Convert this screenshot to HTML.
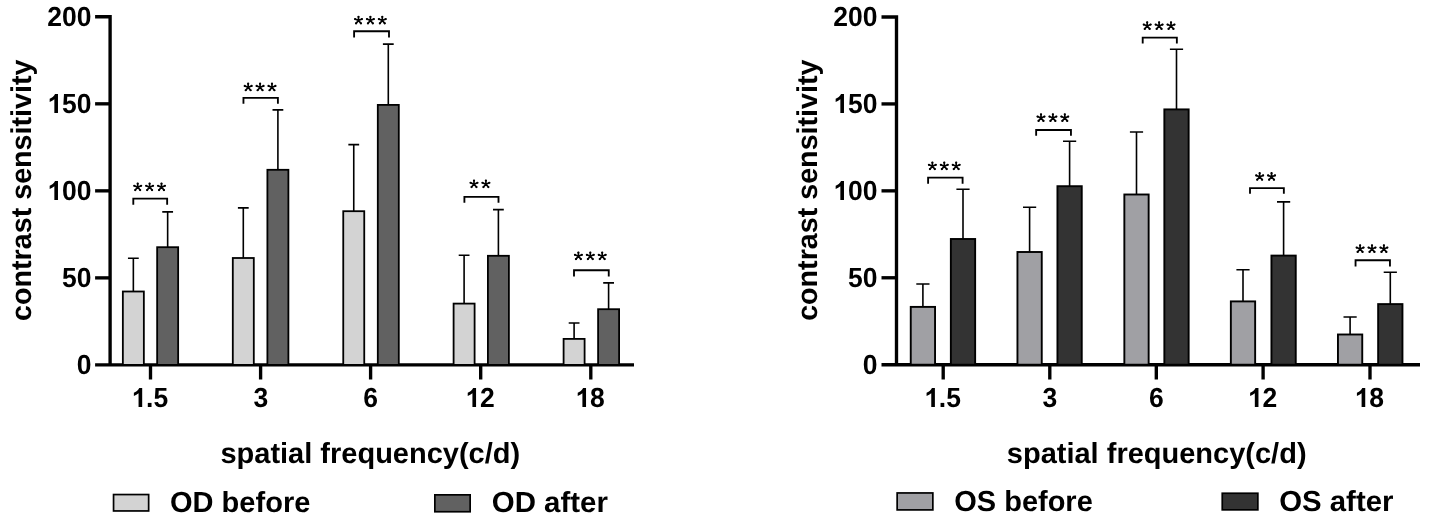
<!DOCTYPE html>
<html><head><meta charset="utf-8"><title>Contrast sensitivity</title>
<style>
html,body{margin:0;padding:0;background:#fff;}
body{width:1430px;height:520px;overflow:hidden;}
svg{display:block;will-change:transform;filter:blur(0.3px);}
text{font-family:"Liberation Sans", sans-serif;fill:#000;text-rendering:geometricPrecision;font-weight:bold;}
</style></head>
<body>
<svg width="1430" height="520" viewBox="0 0 1430 520">
<defs><g id="ast"><path d="M0 0L0 -3.65M0 0L-3.42 -1.4M0 0L3.42 -1.4M0 0L-2.45 2.9M0 0L2.45 2.9" stroke="#000" stroke-width="1.65" stroke-linecap="round" fill="none"/><circle cx="0" cy="-3.65" r="1.12"/><circle cx="-3.42" cy="-1.4" r="1.12"/><circle cx="3.42" cy="-1.4" r="1.12"/><circle cx="-2.45" cy="2.9" r="1.12"/><circle cx="2.45" cy="2.9" r="1.12"/></g></defs>
<rect width="1430" height="520" fill="#fff"/>
<path d="M95.1 16.8H110.1V364.9" fill="none" stroke="#000" stroke-width="3.35"/>
<path d="M95.1 364.9H634" fill="none" stroke="#000" stroke-width="3.35"/>
<path d="M95.1 103.825H110.1" stroke="#000" stroke-width="3.35"/>
<path d="M95.1 190.85H110.1" stroke="#000" stroke-width="3.35"/>
<path d="M95.1 277.875H110.1" stroke="#000" stroke-width="3.35"/>
<g transform="translate(47.172 26) scale(1 1.04)"><text x="0" y="0" style="font-size:26.5px">2</text><text x="14.742" y="0" style="font-size:26.5px">0</text><text x="29.484" y="0" style="font-size:26.5px">0</text></g>
<g transform="translate(47.172 113) scale(1 1.04)"><path d="M0.408 0H0.271V-0.497Q0.196 -0.43 0.094 -0.397V-0.517Q0.147 -0.533 0.21 -0.58Q0.273 -0.627 0.297 -0.688H0.408Z" transform="translate(0 0) scale(26.5)"/><text x="14.742" y="0" style="font-size:26.5px">5</text><text x="29.484" y="0" style="font-size:26.5px">0</text></g>
<g transform="translate(47.172 200) scale(1 1.04)"><path d="M0.408 0H0.271V-0.497Q0.196 -0.43 0.094 -0.397V-0.517Q0.147 -0.533 0.21 -0.58Q0.273 -0.627 0.297 -0.688H0.408Z" transform="translate(0 0) scale(26.5)"/><text x="14.742" y="0" style="font-size:26.5px">0</text><text x="29.484" y="0" style="font-size:26.5px">0</text></g>
<g transform="translate(61.914 287) scale(1 1.04)"><text x="0" y="0" style="font-size:26.5px">5</text><text x="14.742" y="0" style="font-size:26.5px">0</text></g>
<g transform="translate(76.656 374) scale(1 1.04)"><text x="0" y="0" style="font-size:26.5px">0</text></g>
<path d="M150.5 364.9V379.5" stroke="#000" stroke-width="3.35"/>
<g transform="translate(131.381 407) scale(1 1.04)"><path d="M0.408 0H0.271V-0.497Q0.196 -0.43 0.094 -0.397V-0.517Q0.147 -0.533 0.21 -0.58Q0.273 -0.627 0.297 -0.688H0.408Z" transform="translate(0 0) scale(26.5)"/><text x="14.742" y="0" style="font-size:26.5px">.</text><text x="22.104" y="0" style="font-size:26.5px">5</text></g>
<path d="M260.6 364.9V379.5" stroke="#000" stroke-width="3.35"/>
<g transform="translate(253.382 407) scale(1 1.04)"><text x="0" y="0" style="font-size:26.5px">3</text></g>
<path d="M370.6 364.9V379.5" stroke="#000" stroke-width="3.35"/>
<g transform="translate(363.222 407) scale(1 1.04)"><text x="0" y="0" style="font-size:26.5px">6</text></g>
<path d="M480.7 364.9V379.5" stroke="#000" stroke-width="3.35"/>
<g transform="translate(465.247 407) scale(1 1.04)"><path d="M0.408 0H0.271V-0.497Q0.196 -0.43 0.094 -0.397V-0.517Q0.147 -0.533 0.21 -0.58Q0.273 -0.627 0.297 -0.688H0.408Z" transform="translate(0 0) scale(26.5)"/><text x="14.742" y="0" style="font-size:26.5px">2</text></g>
<path d="M590.8 364.9V379.5" stroke="#000" stroke-width="3.35"/>
<g transform="translate(575.226 407) scale(1 1.04)"><path d="M0.408 0H0.271V-0.497Q0.196 -0.43 0.094 -0.397V-0.517Q0.147 -0.533 0.21 -0.58Q0.273 -0.627 0.297 -0.688H0.408Z" transform="translate(0 0) scale(26.5)"/><text x="14.742" y="0" style="font-size:26.5px">8</text></g>
<path d="M133.35 291.5V258.2M127.95 258.2H138.75" stroke="#000" stroke-width="1.6" fill="none"/>
<rect x="122.85" y="291.5" width="21" height="73.4" fill="#d3d3d3" stroke="#000" stroke-width="1.8"/>
<path d="M167.65 247.2V211.85M162.25 211.85H173.05" stroke="#000" stroke-width="1.6" fill="none"/>
<rect x="157.15" y="247.2" width="21" height="117.7" fill="#616161" stroke="#000" stroke-width="1.8"/>
<path d="M243.3 258V207.9M237.9 207.9H248.7" stroke="#000" stroke-width="1.6" fill="none"/>
<rect x="232.8" y="258" width="21" height="106.9" fill="#d3d3d3" stroke="#000" stroke-width="1.8"/>
<path d="M277.9 169.8V109.9M272.5 109.9H283.3" stroke="#000" stroke-width="1.6" fill="none"/>
<rect x="267.4" y="169.8" width="21" height="195.1" fill="#616161" stroke="#000" stroke-width="1.8"/>
<path d="M353.75 211.2V144.6M348.35 144.6H359.15" stroke="#000" stroke-width="1.6" fill="none"/>
<rect x="343.25" y="211.2" width="21" height="153.7" fill="#d3d3d3" stroke="#000" stroke-width="1.8"/>
<path d="M388.3 104.9V44.1M382.9 44.1H393.7" stroke="#000" stroke-width="1.6" fill="none"/>
<rect x="377.8" y="104.9" width="21" height="260" fill="#616161" stroke="#000" stroke-width="1.8"/>
<path d="M464.1 303.6V255.3M458.7 255.3H469.5" stroke="#000" stroke-width="1.6" fill="none"/>
<rect x="453.6" y="303.6" width="21" height="61.3" fill="#d3d3d3" stroke="#000" stroke-width="1.8"/>
<path d="M498.4 255.8V209.6M493 209.6H503.8" stroke="#000" stroke-width="1.6" fill="none"/>
<rect x="487.9" y="255.8" width="21" height="109.1" fill="#616161" stroke="#000" stroke-width="1.8"/>
<path d="M574.1 338.9V323M568.7 323H579.5" stroke="#000" stroke-width="1.6" fill="none"/>
<rect x="563.6" y="338.9" width="21" height="26" fill="#d3d3d3" stroke="#000" stroke-width="1.8"/>
<path d="M608.6 309.2V282.9M603.2 282.9H614" stroke="#000" stroke-width="1.6" fill="none"/>
<rect x="598.1" y="309.2" width="21" height="55.7" fill="#616161" stroke="#000" stroke-width="1.8"/>
<path d="M133.3 204.7V198.65H167.15V204.7" stroke="#000" stroke-width="1.85" fill="none"/>
<use href="#ast" x="137.7" y="187.15"/>
<use href="#ast" x="149.6" y="187.15"/>
<use href="#ast" x="161.5" y="187.15"/>
<path d="M243.45 103.7V97.85H277.9V103.7" stroke="#000" stroke-width="1.85" fill="none"/>
<use href="#ast" x="248.17" y="87.35"/>
<use href="#ast" x="260.07" y="87.35"/>
<use href="#ast" x="271.97" y="87.35"/>
<path d="M354.1 37.6V31.25H389V37.6" stroke="#000" stroke-width="1.85" fill="none"/>
<use href="#ast" x="358.5" y="20.45"/>
<use href="#ast" x="370.4" y="20.45"/>
<use href="#ast" x="382.3" y="20.45"/>
<path d="M464.4 202.7V196.85H498.5V202.7" stroke="#000" stroke-width="1.85" fill="none"/>
<use href="#ast" x="474" y="184.15"/>
<use href="#ast" x="485.9" y="184.15"/>
<path d="M574 276.6V270.2H608.75V276.6" stroke="#000" stroke-width="1.85" fill="none"/>
<use href="#ast" x="578.4" y="256.2"/>
<use href="#ast" x="590.3" y="256.2"/>
<use href="#ast" x="602.2" y="256.2"/>
<text transform="translate(30.55 190.25) rotate(-90)" text-anchor="middle" class="ti" style="font-size:28.68px">contrast sensitivity</text>
<text x="370.324" y="463" text-anchor="middle" class="ti" style="font-size:29.0px">spatial frequency(c/d)</text>
<rect x="113.55" y="494.55" width="35.1" height="16.4" fill="#d3d3d3" stroke="#000" stroke-width="1.7"/>
<text transform="translate(169.995 512) scale(1.001 1)" class="ti" style="font-size:29.0px">OD before</text>
<rect x="434.85" y="494.85" width="35.3" height="16.9" fill="#616161" stroke="#000" stroke-width="1.7"/>
<text transform="translate(491.778 512) scale(1.015 1)" class="ti" style="font-size:29.0px">OD after</text>
<path d="M881.5 17H896.5V364.7" fill="none" stroke="#000" stroke-width="3.35"/>
<path d="M881.5 364.7H1420" fill="none" stroke="#000" stroke-width="3.35"/>
<path d="M881.5 103.925H896.5" stroke="#000" stroke-width="3.35"/>
<path d="M881.5 190.85H896.5" stroke="#000" stroke-width="3.35"/>
<path d="M881.5 277.775H896.5" stroke="#000" stroke-width="3.35"/>
<g transform="translate(833.172 26) scale(1 1.04)"><text x="0" y="0" style="font-size:26.5px">2</text><text x="14.742" y="0" style="font-size:26.5px">0</text><text x="29.484" y="0" style="font-size:26.5px">0</text></g>
<g transform="translate(833.172 113) scale(1 1.04)"><path d="M0.408 0H0.271V-0.497Q0.196 -0.43 0.094 -0.397V-0.517Q0.147 -0.533 0.21 -0.58Q0.273 -0.627 0.297 -0.688H0.408Z" transform="translate(0 0) scale(26.5)"/><text x="14.742" y="0" style="font-size:26.5px">5</text><text x="29.484" y="0" style="font-size:26.5px">0</text></g>
<g transform="translate(833.172 200) scale(1 1.04)"><path d="M0.408 0H0.271V-0.497Q0.196 -0.43 0.094 -0.397V-0.517Q0.147 -0.533 0.21 -0.58Q0.273 -0.627 0.297 -0.688H0.408Z" transform="translate(0 0) scale(26.5)"/><text x="14.742" y="0" style="font-size:26.5px">0</text><text x="29.484" y="0" style="font-size:26.5px">0</text></g>
<g transform="translate(847.914 287) scale(1 1.04)"><text x="0" y="0" style="font-size:26.5px">5</text><text x="14.742" y="0" style="font-size:26.5px">0</text></g>
<g transform="translate(862.656 374) scale(1 1.04)"><text x="0" y="0" style="font-size:26.5px">0</text></g>
<path d="M943.2 364.7V379.5" stroke="#000" stroke-width="3.35"/>
<g transform="translate(924.081 407) scale(1 1.04)"><path d="M0.408 0H0.271V-0.497Q0.196 -0.43 0.094 -0.397V-0.517Q0.147 -0.533 0.21 -0.58Q0.273 -0.627 0.297 -0.688H0.408Z" transform="translate(0 0) scale(26.5)"/><text x="14.742" y="0" style="font-size:26.5px">.</text><text x="22.104" y="0" style="font-size:26.5px">5</text></g>
<path d="M1049.8 364.7V379.5" stroke="#000" stroke-width="3.35"/>
<g transform="translate(1042.582 407) scale(1 1.04)"><text x="0" y="0" style="font-size:26.5px">3</text></g>
<path d="M1156.3 364.7V379.5" stroke="#000" stroke-width="3.35"/>
<g transform="translate(1148.922 407) scale(1 1.04)"><text x="0" y="0" style="font-size:26.5px">6</text></g>
<path d="M1263.1 364.7V379.5" stroke="#000" stroke-width="3.35"/>
<g transform="translate(1247.647 407) scale(1 1.04)"><path d="M0.408 0H0.271V-0.497Q0.196 -0.43 0.094 -0.397V-0.517Q0.147 -0.533 0.21 -0.58Q0.273 -0.627 0.297 -0.688H0.408Z" transform="translate(0 0) scale(26.5)"/><text x="14.742" y="0" style="font-size:26.5px">2</text></g>
<path d="M1370 364.7V379.5" stroke="#000" stroke-width="3.35"/>
<g transform="translate(1354.426 407) scale(1 1.04)"><path d="M0.408 0H0.271V-0.497Q0.196 -0.43 0.094 -0.397V-0.517Q0.147 -0.533 0.21 -0.58Q0.273 -0.627 0.297 -0.688H0.408Z" transform="translate(0 0) scale(26.5)"/><text x="14.742" y="0" style="font-size:26.5px">8</text></g>
<path d="M922.9 306.9V284M916.3 284H929.5" stroke="#000" stroke-width="1.6" fill="none"/>
<rect x="910.75" y="306.9" width="24.3" height="57.8" fill="#a0a0a4" stroke="#000" stroke-width="1.9"/>
<path d="M963 239V189.2M956.4 189.2H969.6" stroke="#000" stroke-width="1.6" fill="none"/>
<rect x="950.85" y="239" width="24.3" height="125.7" fill="#333333" stroke="#000" stroke-width="1.9"/>
<path d="M1029.6 252V207.2M1023 207.2H1036.2" stroke="#000" stroke-width="1.6" fill="none"/>
<rect x="1017.45" y="252" width="24.3" height="112.7" fill="#a0a0a4" stroke="#000" stroke-width="1.9"/>
<path d="M1069.6 186.2V141.2M1063 141.2H1076.2" stroke="#000" stroke-width="1.6" fill="none"/>
<rect x="1057.45" y="186.2" width="24.3" height="178.5" fill="#333333" stroke="#000" stroke-width="1.9"/>
<path d="M1136.5 194.5V132M1129.9 132H1143.1" stroke="#000" stroke-width="1.6" fill="none"/>
<rect x="1124.35" y="194.5" width="24.3" height="170.2" fill="#a0a0a4" stroke="#000" stroke-width="1.9"/>
<path d="M1176.5 109.4V49.2M1169.9 49.2H1183.1" stroke="#000" stroke-width="1.6" fill="none"/>
<rect x="1164.35" y="109.4" width="24.3" height="255.3" fill="#333333" stroke="#000" stroke-width="1.9"/>
<path d="M1243 301.4V269.7M1236.4 269.7H1249.6" stroke="#000" stroke-width="1.6" fill="none"/>
<rect x="1230.85" y="301.4" width="24.3" height="63.3" fill="#a0a0a4" stroke="#000" stroke-width="1.9"/>
<path d="M1283.6 255.6V201.9M1277 201.9H1290.2" stroke="#000" stroke-width="1.6" fill="none"/>
<rect x="1271.45" y="255.6" width="24.3" height="109.1" fill="#333333" stroke="#000" stroke-width="1.9"/>
<path d="M1350.1 334.5V317M1343.5 317H1356.7" stroke="#000" stroke-width="1.6" fill="none"/>
<rect x="1337.95" y="334.5" width="24.3" height="30.2" fill="#a0a0a4" stroke="#000" stroke-width="1.9"/>
<path d="M1390.3 304.1V272.2M1383.7 272.2H1396.9" stroke="#000" stroke-width="1.6" fill="none"/>
<rect x="1378.15" y="304.1" width="24.3" height="60.6" fill="#333333" stroke="#000" stroke-width="1.9"/>
<path d="M928.1 183.7V177.6H962.6V183.7" stroke="#000" stroke-width="1.85" fill="none"/>
<use href="#ast" x="932.38" y="166.2"/>
<use href="#ast" x="944.28" y="166.2"/>
<use href="#ast" x="956.18" y="166.2"/>
<path d="M1036.15 135.7V129.95H1070.95V135.7" stroke="#000" stroke-width="1.85" fill="none"/>
<use href="#ast" x="1041" y="118"/>
<use href="#ast" x="1052.9" y="118"/>
<use href="#ast" x="1064.8" y="118"/>
<path d="M1142.7 43.5V37.55H1176.85V43.5" stroke="#000" stroke-width="1.85" fill="none"/>
<use href="#ast" x="1147.2" y="26"/>
<use href="#ast" x="1159.1" y="26"/>
<use href="#ast" x="1171" y="26"/>
<path d="M1250 193.7V188.1H1283.85V193.7" stroke="#000" stroke-width="1.85" fill="none"/>
<use href="#ast" x="1259.65" y="176.8"/>
<use href="#ast" x="1271.55" y="176.8"/>
<path d="M1355.55 266.4V260.2H1389.95V266.4" stroke="#000" stroke-width="1.85" fill="none"/>
<use href="#ast" x="1360.1" y="249"/>
<use href="#ast" x="1372" y="249"/>
<use href="#ast" x="1383.9" y="249"/>
<text transform="translate(816.55 190.2) rotate(-90)" text-anchor="middle" class="ti" style="font-size:28.68px">contrast sensitivity</text>
<text x="1156.674" y="463" text-anchor="middle" class="ti" style="font-size:29.0px">spatial frequency(c/d)</text>
<rect x="897.15" y="492.95" width="35.7" height="16.95" fill="#a0a0a4" stroke="#000" stroke-width="1.7"/>
<text transform="translate(954.296 511) scale(0.999 1)" class="ti" style="font-size:29.0px">OS before</text>
<rect x="1222.25" y="493.25" width="35.6" height="16.6" fill="#333333" stroke="#000" stroke-width="1.7"/>
<text transform="translate(1279.18 511) scale(1.013 1)" class="ti" style="font-size:29.0px">OS after</text>
</svg>
</body></html>
